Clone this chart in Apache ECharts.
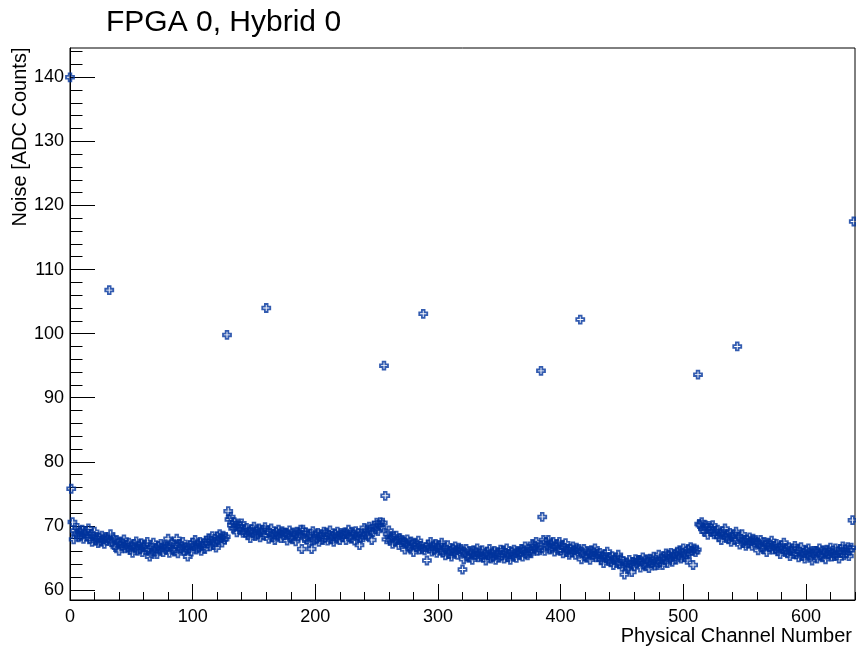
<!DOCTYPE html>
<html>
<head>
<meta charset="utf-8">
<script src="https://cdn.jsdelivr.net/npm/echarts@6/dist/echarts.min.js"></script>
<style>
html,body{margin:0;padding:0;background:#fff;}
#chart{width:856px;height:649px;}
</style>
</head>
<body>
<div id="chart"></div>
<script>
// Noise per physical channel (ADC counts), channels 0-127
var noiseA = [
140.0, 75.8, 70.6, 67.9, 69.3, 68.7, 69.7, 68.2, 69.1, 68.5, 69.4, 68.0, 68.8, 69.2, 68.3, 69.6,
68.0, 68.8, 67.5, 68.4, 69.1, 67.7, 68.2, 67.3, 68.2, 67.5, 68.5, 67.9, 67.2, 68.3, 67.7, 68.1,
106.8, 68.7, 67.5, 68.1, 67.0, 66.7, 67.8, 67.3, 66.1, 67.6, 66.8, 67.3, 67.9, 66.5, 67.1, 66.6,
67.4, 66.3, 66.8, 65.8, 67.2, 66.6, 67.6, 66.1, 67.0, 66.4, 67.3, 65.9, 66.7, 67.1, 66.2, 67.5,
66.3, 65.2, 65.8, 66.7, 67.4, 66.0, 66.5, 65.6, 66.9, 66.2, 67.2, 66.6, 65.9, 67.0, 66.4, 66.8,
68.0, 65.8, 66.8, 67.4, 66.3, 66.0, 67.1, 68.0, 65.7, 67.2, 66.4, 66.9, 67.5, 66.1, 66.7, 66.2,
65.2, 66.5, 67.0, 66.0, 67.4, 66.8, 67.8, 66.3, 67.2, 66.6, 67.5, 66.1, 66.9, 67.3, 66.4, 67.7,
67.3, 68.1, 66.8, 67.7, 68.4, 67.0, 67.5, 66.6, 68.4, 67.7, 68.7, 68.1, 67.4, 68.5, 67.9, 68.3
];
// channels 128-255
var noiseB = [
99.8, 72.3, 71.0, 71.4, 70.1, 69.6, 70.6, 70.0, 69.0, 70.4, 69.5, 69.9, 70.4, 68.9, 69.4, 68.9,
69.7, 68.6, 69.1, 68.1, 69.5, 68.9, 69.9, 68.4, 69.3, 68.7, 69.6, 68.2, 69.0, 69.4, 68.5, 69.8,
104.0, 69.3, 68.0, 68.9, 69.6, 68.2, 68.7, 67.8, 69.1, 68.4, 69.4, 68.8, 68.1, 69.2, 68.6, 69.0,
68.9, 67.7, 68.7, 69.3, 68.2, 67.9, 69.0, 68.5, 67.6, 69.1, 68.3, 68.8, 69.4, 66.4, 69.4, 68.1,
69.0, 67.9, 68.4, 67.4, 68.8, 66.4, 69.2, 67.7, 68.6, 68.0, 68.9, 67.5, 68.3, 68.7, 67.8, 69.1,
68.2, 69.0, 67.7, 68.6, 69.3, 67.9, 68.4, 67.5, 68.8, 68.1, 69.1, 68.5, 67.8, 68.9, 68.3, 68.7,
69.0, 67.8, 68.8, 69.4, 68.3, 68.0, 69.1, 68.6, 67.7, 69.2, 68.4, 68.9, 67.0, 68.1, 68.7, 68.2,
69.7, 68.7, 69.3, 68.4, 69.9, 69.4, 67.8, 69.0, 70.0, 69.5, 70.5, 69.2, 70.1, 70.6, 69.8, 70.5
];
// channels 256-383
var noiseC = [
95.0, 74.7, 67.9, 68.7, 69.3, 67.8, 68.2, 67.2, 68.4, 67.6, 68.5, 67.8, 67.0, 68.1, 67.4, 67.8,
67.5, 66.3, 67.3, 67.9, 66.8, 66.5, 67.6, 67.1, 65.9, 67.4, 66.6, 67.1, 67.7, 66.3, 66.9, 66.4,
103.1, 66.2, 66.7, 64.6, 67.1, 66.5, 67.5, 66.0, 66.9, 66.3, 67.2, 65.8, 66.6, 67.0, 66.1, 67.4,
65.9, 66.7, 65.4, 66.3, 67.0, 65.6, 66.1, 65.2, 66.5, 65.8, 66.8, 66.2, 65.5, 66.6, 66.0, 66.4,
63.2, 64.8, 65.8, 66.4, 65.3, 65.0, 66.1, 65.6, 64.7, 66.2, 65.4, 65.9, 66.5, 65.1, 65.7, 65.2,
66.2, 65.1, 65.6, 64.6, 66.0, 65.4, 66.4, 64.9, 65.8, 65.2, 66.1, 64.7, 65.5, 65.9, 65.0, 66.3,
65.4, 66.2, 64.9, 65.8, 66.5, 65.1, 65.6, 64.7, 66.0, 65.3, 66.3, 65.7, 65.0, 66.1, 65.5, 65.9,
66.4, 65.2, 66.2, 66.8, 65.7, 65.4, 66.5, 66.0, 65.7, 67.2, 66.4, 66.9, 67.5, 66.1, 66.7, 66.2
];
// channels 384-511
var noiseD = [
94.2, 71.4, 67.8, 66.1, 67.5, 66.9, 67.8, 66.3, 67.2, 66.6, 67.5, 66.0, 66.8, 67.2, 66.2, 67.5,
66.2, 67.0, 65.7, 66.6, 67.3, 65.9, 66.4, 65.5, 66.5, 65.8, 66.8, 66.2, 65.5, 66.6, 66.0, 66.4,
102.2, 64.8, 65.8, 66.4, 65.3, 65.0, 66.1, 65.6, 64.7, 66.2, 65.4, 65.9, 66.5, 65.1, 65.7, 65.2,
65.8, 64.7, 65.2, 64.2, 65.6, 65.0, 66.0, 64.5, 65.0, 64.4, 65.3, 63.9, 64.7, 65.1, 64.2, 65.5,
64.1, 64.9, 63.6, 64.5, 62.4, 63.8, 64.3, 63.4, 64.7, 64.0, 62.8, 64.4, 63.7, 64.8, 64.2, 64.6,
64.7, 63.5, 64.5, 65.1, 64.0, 63.7, 64.8, 64.3, 63.4, 64.9, 64.1, 64.6, 65.2, 63.8, 64.4, 63.9,
65.5, 64.4, 64.9, 63.9, 65.3, 64.7, 65.7, 64.2, 65.5, 64.9, 65.8, 64.4, 65.2, 65.6, 64.7, 66.0,
65.4, 66.2, 64.9, 65.8, 66.5, 65.1, 65.6, 64.7, 66.4, 65.7, 66.7, 66.1, 63.9, 66.5, 65.9, 66.3
];
// channels 512-639
var noiseE = [
93.6, 70.3, 70.1, 70.6, 69.5, 69.1, 70.1, 69.6, 68.6, 70.0, 69.2, 69.6, 70.1, 68.7, 69.2, 68.7,
69.4, 68.3, 68.8, 67.8, 69.2, 68.6, 69.6, 68.1, 68.6, 68.0, 68.9, 67.5, 68.3, 68.7, 67.8, 69.1,
98.0, 68.4, 67.1, 68.0, 68.7, 67.3, 67.8, 66.9, 67.9, 67.2, 68.2, 67.6, 66.9, 68.0, 67.4, 67.8,
67.4, 66.2, 67.2, 67.8, 66.7, 66.4, 67.5, 67.0, 65.9, 67.4, 66.6, 67.1, 67.7, 66.3, 66.9, 66.4,
67.2, 66.1, 66.6, 65.6, 67.0, 66.4, 67.4, 65.9, 66.4, 65.8, 66.7, 65.3, 66.1, 66.5, 65.6, 66.9,
65.6, 66.4, 65.1, 66.0, 66.7, 65.3, 65.8, 64.9, 66.2, 65.5, 66.5, 65.9, 65.2, 64.6, 65.7, 66.1,
66.1, 64.9, 65.9, 66.5, 65.4, 65.1, 66.2, 65.7, 64.8, 66.3, 65.5, 66.0, 66.6, 65.2, 65.8, 65.3,
66.5, 65.4, 65.9, 64.9, 66.4, 65.8, 66.8, 65.4, 66.3, 65.7, 66.7, 65.3, 66.2, 66.6, 70.9, 117.5
];
var xMajorTicks = [0, 100, 200, 300, 400, 500, 600];
var yMajorTicks = [60, 70, 80, 90, 100, 110, 120, 130, 140];
var titleText = 'FPGA 0, Hybrid 0';
var xTitle = 'Physical Channel Number';
var yTitle = 'Noise [ADC Counts]';

var noise = noiseA.concat(noiseB, noiseC, noiseD, noiseE);
var points = noise.map(function (v, i) { return [i, v]; });

var xMinor = [], yMinor = [];
for (var t = 0; t <= 640; t += 20) xMinor.push(t);
for (var u = 60; u <= 144; u += 2) yMinor.push(u);

var FONT = '"Liberation Sans", Arial, Helvetica, sans-serif';
var BLUE = '#00339c';

var chart = echarts.init(document.getElementById('chart'), null, {renderer: 'canvas'});
chart.setOption({
  animation: false,
  backgroundColor: '#ffffff',
  grid: {left: 70, right: 1, top: 48, bottom: 49, show: true, borderColor: '#000', borderWidth: 1, backgroundColor: '#fff'},
  xAxis: [{
    type: 'value', min: 0, max: 640, position: 'bottom',
    axisLine: {show: true, lineStyle: {color: '#000', width: 1}},
    axisTick: {show: true, inside: true, length: 16, lineStyle: {color: '#000'}, customValues: xMajorTicks},
    axisLabel: {show: true, color: '#000', fontSize: 18, fontFamily: FONT, margin: 8, customValues: xMajorTicks},
    splitLine: {show: false}
  }, {
    type: 'value', min: 0, max: 640, position: 'bottom',
    axisLine: {show: false},
    axisTick: {show: true, inside: true, length: 8, lineStyle: {color: '#000'}, customValues: xMinor},
    axisLabel: {show: false},
    splitLine: {show: false}
  }],
  yAxis: [{
    type: 'value', min: 58.44, max: 144.57, position: 'left',
    axisLine: {show: true, lineStyle: {color: '#000', width: 1}},
    axisTick: {show: true, inside: true, length: 25, lineStyle: {color: '#000'}, customValues: yMajorTicks},
    axisLabel: {show: true, color: '#000', fontSize: 18, fontFamily: FONT, margin: 6, customValues: yMajorTicks},
    splitLine: {show: false}
  }, {
    type: 'value', min: 58.44, max: 144.57, position: 'left',
    axisLine: {show: false},
    axisTick: {show: true, inside: true, length: 12.5, lineStyle: {color: '#000'}, customValues: yMinor},
    axisLabel: {show: false},
    splitLine: {show: false}
  }],
  graphic: [
    {type: 'text', left: 106, top: 8, style: {text: titleText, fontSize: 30, fontFamily: FONT, fill: '#000'}},
    {type: 'text', x: 20, y: 137, rotation: Math.PI / 2, style: {text: yTitle, fontSize: 20, fontFamily: FONT, fill: '#000', align: 'center', verticalAlign: 'middle'}},
    {type: 'text', x: 852, y: 636, style: {text: xTitle, fontSize: 20, fontFamily: FONT, fill: '#000', align: 'right', verticalAlign: 'middle'}}
  ],
  series: [{
    type: 'scatter',
    xAxisIndex: 0, yAxisIndex: 0,
    data: points,
    clip: false,
    symbol: 'path://M3,0H6V3H9V6H6V9H3V6H0V3H3Z',
    symbolSize: 8,
    itemStyle: {color: 'rgba(255,255,255,0)', borderColor: BLUE, borderWidth: 1.8},
    emphasis: {disabled: true}
  }]
});
</script>
</body>
</html>
